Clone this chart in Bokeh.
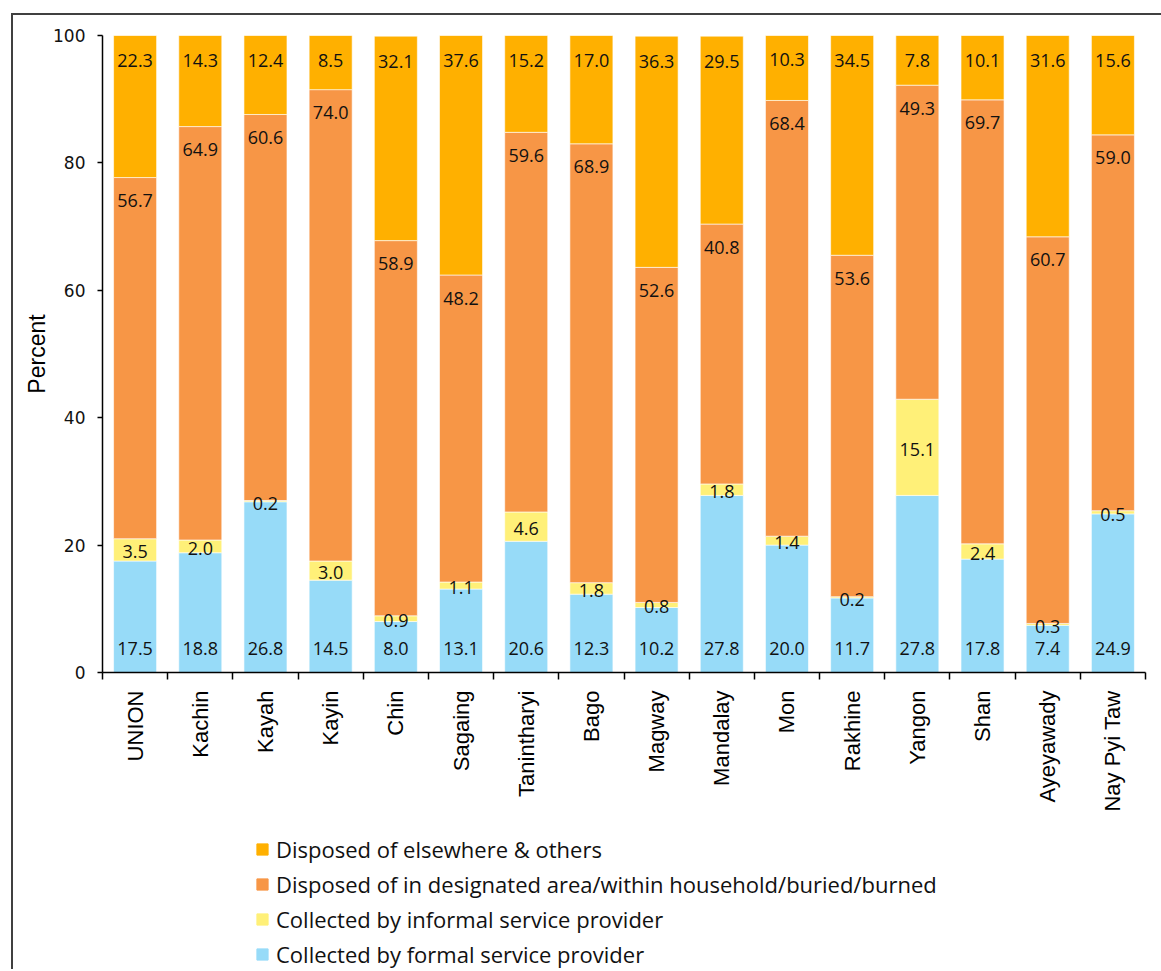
import math
from bokeh.plotting import figure
from bokeh.layouts import column
from bokeh.models import ColumnDataSource, FixedTicker, Legend, LegendItem, Range1d
from bokeh.core.properties import value
from bokeh.embed import file_html
from bokeh.resources import INLINE

categories = ["UNION", "Kachin", "Kayah", "Kayin", "Chin", "Sagaing", "Tanintharyi",
              "Bago", "Magway", "Mandalay", "Mon", "Rakhine", "Yangon", "Shan",
              "Ayeyawady", "Nay Pyi Taw"]
formal = [17.5, 18.8, 26.8, 14.5, 8.0, 13.1, 20.6, 12.3, 10.2, 27.8, 20.0, 11.7, 27.8, 17.8, 7.4, 24.9]
informal = [3.5, 2.0, 0.2, 3.0, 0.9, 1.1, 4.6, 1.8, 0.8, 1.8, 1.4, 0.2, 15.1, 2.4, 0.3, 0.5]
designated = [56.7, 64.9, 60.6, 74.0, 58.9, 48.2, 59.6, 68.9, 52.6, 40.8, 68.4, 53.6, 49.3, 69.7, 60.7, 59.0]
elsewhere = [22.3, 14.3, 12.4, 8.5, 32.1, 37.6, 15.2, 17.0, 36.3, 29.5, 10.3, 34.5, 7.8, 10.1, 31.6, 15.6]

series_keys = ["formal", "informal", "designated", "elsewhere"]
series_names = ["Collected by formal service provider",
                "Collected by informal service provider",
                "Disposed of in designated area/within household/buried/burned",
                "Disposed of elsewhere & others"]
colors = ["#97DBF8", "#FFF078", "#F79646", "#FFB000"]

n = len(categories)
xs = [i + 0.5 for i in range(n)]
data = dict(x=xs, formal=formal, informal=informal, designated=designated, elsewhere=elsewhere)
source = ColumnDataSource(data)

p = figure(frame_width=1043, frame_height=637, x_range=(0, n), y_range=(0, 100),
           output_backend="svg", toolbar_location=None,
           min_border_left=89, min_border_top=20, min_border_right=10, min_border_bottom=160)
p.outline_line_color = None
p.xgrid.visible = False
p.ygrid.visible = False
p.background_fill_color = "white"
p.border_fill_color = "white"

p.vbar_stack(series_keys, x="x", width=0.66, color=colors, source=source,
             line_color="white", line_width=0.6)

cum1 = list(formal)
cum2 = [a + b for a, b in zip(formal, informal)]
cum3 = [a + b + c for a, b, c in zip(formal, informal, designated)]
cum4 = [a + b + c + d for a, b, c, d in zip(formal, informal, designated, elsewhere)]

lab_font = value("Open Sans")
common = dict(text_font=lab_font, text_font_size="18px", text_color="#111111",
              text_align="center", text_baseline="middle")

p.text(x=xs, y=[0] * n, text=[f"{v:.1f}" for v in formal], y_offset=-24, **common)
p.text(x=xs, y=[(a + b) / 2 for a, b in zip(cum1, cum2)], text=[f"{v:.1f}" for v in informal],
       y_offset=2, **common)
p.text(x=xs, y=cum3, text=[f"{v:.1f}" for v in designated], y_offset=23, **common)
p.text(x=xs, y=cum4, text=[f"{v:.1f}" for v in elsewhere], y_offset=25, **common)

# x axis
xa = p.xaxis[0]
xa.ticker = FixedTicker(ticks=xs, minor_ticks=list(range(n + 1)))
xa.major_label_overrides = {x: c for x, c in zip(xs, categories)}
xa.major_label_orientation = math.pi / 2
xa.major_tick_out = 0
xa.major_tick_in = 0
xa.minor_tick_out = 7
xa.minor_tick_in = 0
xa.minor_tick_line_color = "black"
xa.minor_tick_line_width = 1.5
xa.major_label_standoff = 11
xa.major_label_text_font = "Liberation Sans"
xa.major_label_text_font_size = "22px"
xa.major_label_text_color = "black"
xa.axis_line_color = "black"
xa.axis_line_width = 1.5

# y axis
ya = p.yaxis[0]
ya.ticker = FixedTicker(ticks=[0, 20, 40, 60, 80, 100])
ya.major_tick_out = 5
ya.major_tick_in = 0
ya.minor_tick_out = 0
ya.minor_tick_in = 0
ya.major_tick_line_width = 1.5
ya.major_tick_line_color = "black"
ya.major_label_standoff = 12
ya.major_label_text_font = "DejaVu Sans"
ya.major_label_text_font_size = "17px"
ya.major_label_text_color = "#111111"
ya.axis_line_color = "black"
ya.axis_line_width = 1.5
ya.axis_label = "Percent"
ya.axis_label_text_font = "Liberation Sans"
ya.axis_label_text_font_size = "23px"
ya.axis_label_text_font_style = "normal"
ya.axis_label_text_color = "black"
ya.axis_label_standoff = 0

# legend figure below (renderers kept out of its visible range)
p2 = figure(frame_width=1043, frame_height=137, x_range=Range1d(0, n), y_range=Range1d(1000, 1001),
            output_backend="svg", toolbar_location=None,
            x_axis_location=None, y_axis_location=None,
            min_border_left=89, min_border_top=0, min_border_right=10, min_border_bottom=0)
p2.outline_line_color = None
p2.grid.visible = False
p2.background_fill_color = "white"
p2.border_fill_color = "white"
leg_renderers = p2.vbar_stack(series_keys, x="x", width=0.66, color=colors, source=source)

items = [LegendItem(label=series_names[i], renderers=[leg_renderers[i]]) for i in [3, 2, 1, 0]]
legend = Legend(items=items, location=(153, 0), orientation="vertical",
                padding=0, margin=0, spacing=5, label_height=30,
                glyph_width=14, glyph_height=14, label_standoff=7,
                label_text_font="Open Sans", label_text_font_size="22px",
                label_text_color="#111111", border_line_color=None,
                background_fill_alpha=0)
p2.add_layout(legend, "center")

layout = column(p, p2, spacing=0)

template = """
{% block postamble %}
<style>
html, body { height: auto !important; }
body { margin: 13px 0 0 11px !important; border-left: 2px solid #404040; border-top: 2px solid #404040; }
</style>
{% endblock %}
"""

open("out.html", "w").write(file_html(layout, INLINE, template=template))
